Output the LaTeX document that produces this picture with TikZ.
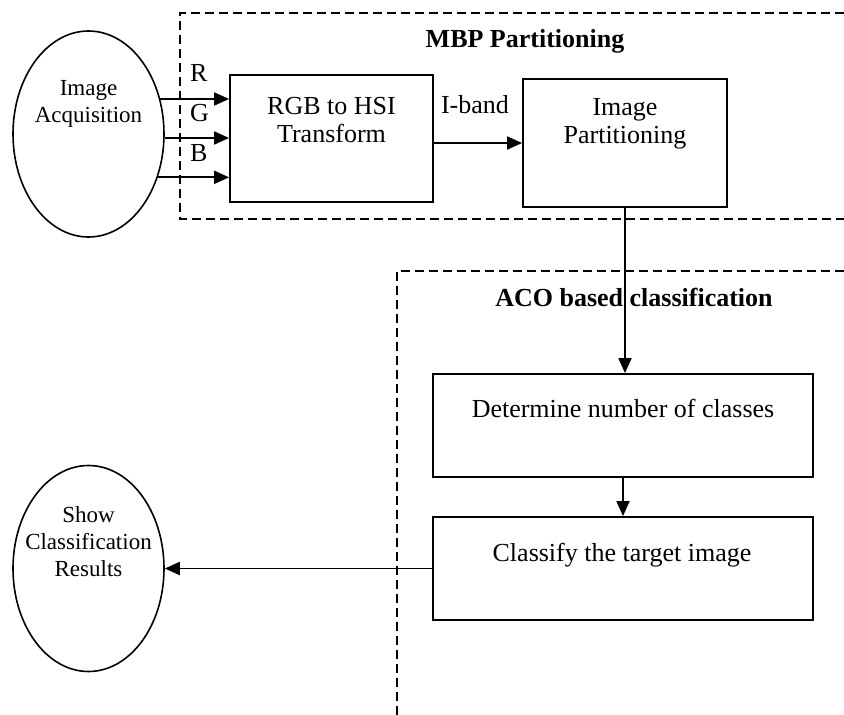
\documentclass[tikz,border=0pt]{standalone}
\usepackage{fontspec}
\setmainfont{Liberation Serif}
\usetikzlibrary{arrows.meta,shapes.geometric}
\begin{document}
\begin{tikzpicture}[x=1pt,y=-1pt,
  lw/.style={line width=1.8pt},
  blk/.style={draw,lw,rectangle,inner sep=0pt},
  oval/.style={draw,line width=1.6pt,ellipse,inner sep=0pt,minimum width=151pt,minimum height=206pt},
  boxtxt/.style={inner sep=0pt,align=center,font=\fontsize{26}{28.5}\selectfont},
  ovaltxt/.style={inner sep=0pt,align=center,font=\fontsize{23}{27}\selectfont},
  grp/.style={line width=1.5pt,dash pattern=on 9pt off 5pt},
  grptitle/.style={inner sep=0pt,anchor=base,font=\fontsize{26}{28}\selectfont\bfseries},
  arr/.style={lw,-{Triangle[length=15pt,width=13pt]}},
  lbl/.style={inner sep=0pt,font=\fontsize{26}{28}\selectfont}
]
\useasboundingbox (0,0) rectangle (844,715);

% group frames
\draw[grp] (844,13) -- (180,13) -- (180,219) -- (844,219);
\draw[grp] (844,271) -- (397,271) -- (397,715);
\node[grptitle] (mbpt) at (525,47) {MBP Partitioning};
\node[grptitle] (acot) at (634,306) {ACO based classification};

% ellipses
\node[oval] (acq) at (88.5,134) {};
\node[ovaltxt] (acqtxt) at (88.5,104) {Image\\Acquisition};
\node[oval] (show) at (88.5,568.5) {};
\node[ovaltxt] (showtxt) at (88.5,542) {Show\\Classification\\Results};

% boxes
\node[blk,minimum width=203pt,minimum height=127pt] (rgb) at (331.5,138.5) {};
\node[boxtxt] (rgbtxt) at (331.5,120) {RGB to HSI\\Transform};
\node[blk,minimum width=204pt,minimum height=128pt] (part) at (625,143) {};
\node[boxtxt] (parttxt) at (625,124) {Image\\Partitioning};
\node[blk,minimum width=380pt,minimum height=103pt] (det) at (623,425.5) {};
\node[lbl,anchor=base] (dettxt) at (623,417) {Determine number of classes};
\node[blk,minimum width=380pt,minimum height=103pt] (cls) at (623,568.5) {};
\node[lbl,anchor=base] (clstxt) at (622,561) {Classify the target image};

% RGB arrows
\draw[arr] (acq.26) -- (acq.26 -| rgb.west);
\draw[arr] (acq.-3.8) -- (acq.-3.8 -| rgb.west);
\draw[arr] (acq.-32) -- (acq.-32 -| rgb.west);
\node[lbl,anchor=base west] (r) at (190,81) {R};
\node[lbl,anchor=base west] (g) at (190,121) {G};
\node[lbl,anchor=base west] (b) at (190,161) {B};

% I-band
\draw[arr] (part.west -| rgb.east) -- (part.west);
\node[lbl,anchor=base] (iband) at (475,113) {I-band};

% down flow
\draw[arr] (part.south) -- (part.south |- det.north);
\draw[arr] (det.south) -- (cls.north);
\draw[arr] (cls.west) -- (show.east);
\end{tikzpicture}
\end{document}
